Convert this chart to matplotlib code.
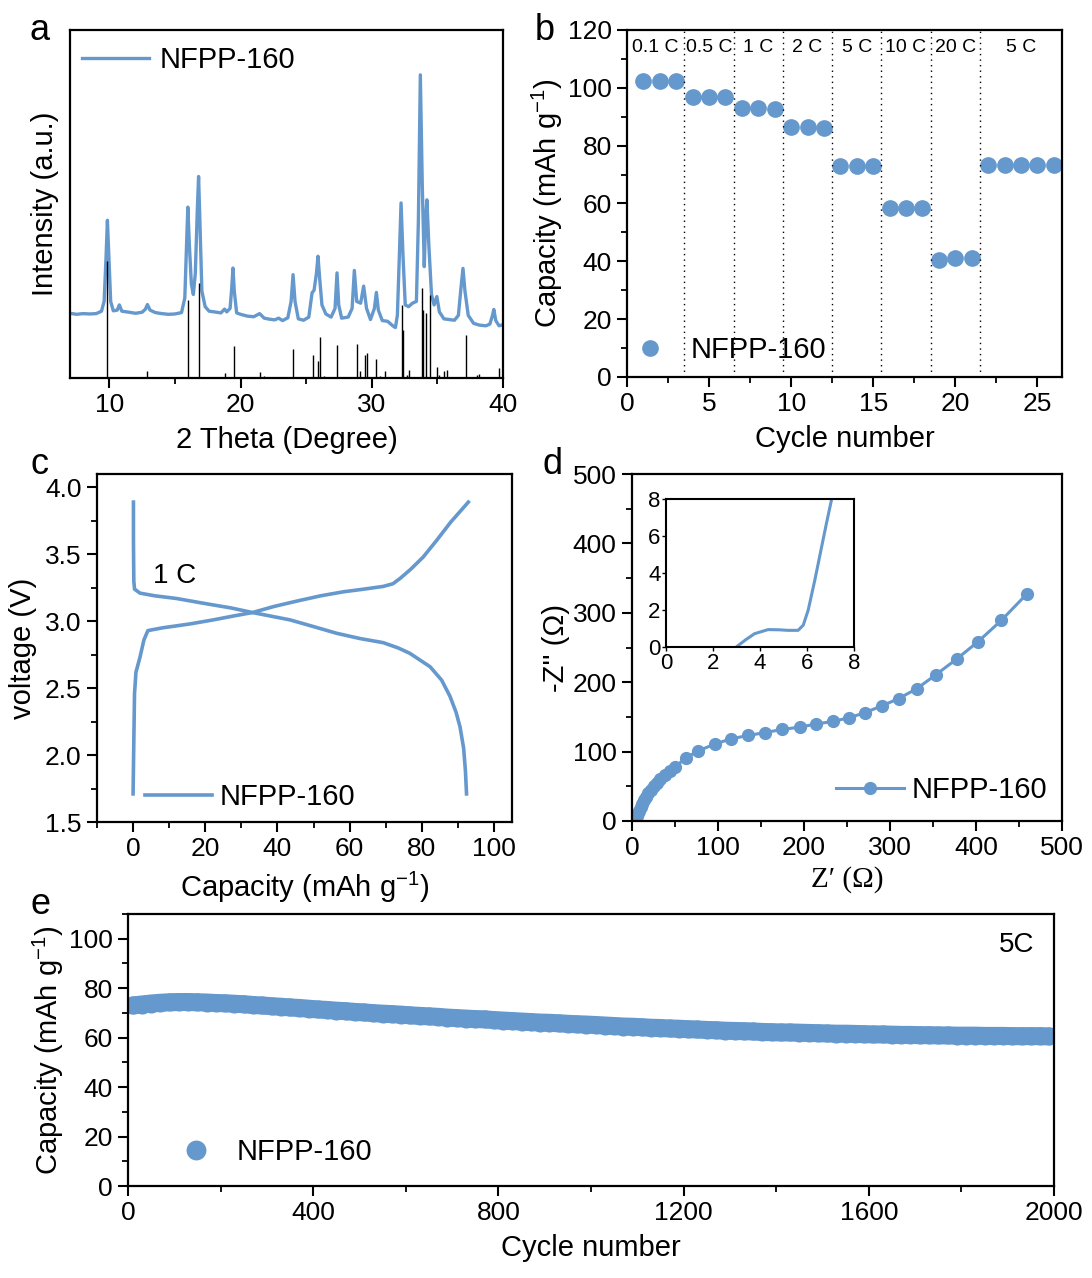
import matplotlib.pyplot as plt
import numpy as np
from matplotlib.ticker import MultipleLocator

plt.rcParams['font.family'] = ['Liberation Sans', 'DejaVu Sans']
plt.rcParams['mathtext.default'] = 'regular'

BLUE = '#6598cc'

# ---- (a) XRD ----
xrd_2theta = [7.0, 7.5, 8.0, 8.5, 9.0, 9.4, 9.6, 9.75, 9.85, 9.95, 10.1, 10.3, 10.6, 10.76, 10.95,
              11.5, 12.0, 12.5, 12.75, 12.9, 13.1, 13.5, 14.0, 14.5, 15.0, 15.5, 15.75, 15.88, 15.98,
              16.1, 16.25, 16.4, 16.55, 16.7, 16.8, 16.9, 17.05, 17.3, 17.6, 18.0, 18.5, 18.78, 18.95,
              19.2, 19.33, 19.42, 19.52, 19.7, 20.0, 20.5, 21.0, 21.45, 21.8, 22.2, 22.6, 22.9, 23.2,
              23.6, 23.85, 24.0, 24.15, 24.4, 24.8, 25.2, 25.45, 25.6, 25.78, 25.9, 26.02, 26.2, 26.5,
              26.9, 27.2, 27.35, 27.48, 27.7, 28.2, 28.5, 28.67, 28.85, 29.15, 29.38, 29.6, 29.9, 30.2,
              30.35, 30.5, 30.8, 31.2, 31.6, 31.8, 31.95, 32.1, 32.23, 32.38, 32.55, 32.8, 33.1, 33.4,
              33.55, 33.7, 33.85, 34.0, 34.1, 34.2, 34.35, 34.55, 34.75, 34.96, 35.15, 35.5, 35.9, 36.3,
              36.6, 36.8, 36.95, 37.1, 37.35, 37.76, 38.2, 38.7, 39.0, 39.2, 39.3, 39.45, 39.7, 40.0]
xrd_int = [18.6, 18.3, 18.5, 18.4, 18.5, 19.2, 22, 35, 45.3, 36, 22, 19.3, 19.5, 21.0, 19.2,
           18.9, 18.6, 18.9, 19.8, 21.1, 19.5, 18.8, 18.5, 18.3, 18.4, 18.8, 23, 38, 49.1,
           38, 27, 24, 30, 48, 57.9, 45, 25, 20.5, 19.2, 19.0, 18.7, 19.8, 19.0,
           20, 26, 31.6, 25, 18.7, 18.3, 17.8, 17.6, 18.5, 17.2, 16.9, 16.7, 17.2, 16.5,
           17.3, 22, 29.7, 22, 17, 16.6, 17.5, 24.5, 25.2, 30, 35, 29, 21, 18.4,
           17.5, 20, 30.2, 21, 17.2, 17.5, 20, 30.9, 22, 21.5, 26.4, 20, 16.8, 20,
           24.6, 19.5, 16.5, 16.3, 15.0, 14.5, 18, 35, 50.3, 35, 21, 20.5, 21.5, 22,
           45, 87.1, 55, 32, 45, 51.2, 38, 24, 21, 23.4, 19, 17, 16.8, 16.6,
           18, 26, 31.5, 25, 18, 15.7, 15.2, 15, 15.5, 18, 19.7, 16.5, 15, 15.3]
ref_2theta = [9.85, 12.9, 16.0, 16.8, 18.8, 19.5, 21.45, 21.75, 24.0, 25.5, 25.9, 26.05, 26.35,
              27.35, 28.9, 29.1, 29.45, 29.6, 30.35, 30.6, 31.0, 32.3, 32.4, 32.7, 32.85, 33.8,
              33.9, 34.1, 34.4, 35.0, 35.15, 35.5, 35.7, 37.15, 38.05, 38.2, 39.7]
ref_int = [33.5, 1.9, 22.5, 27.3, 1.4, 9.3, 1.7, 0.5, 8.2, 6.7, 4.8, 11.8, 0.7,
           9.5, 9.8, 1.9, 6.7, 7.2, 5.6, 0.7, 1.9, 21, 13.8, 1.0, 2.4, 25.8,
           19.6, 18.6, 23.9, 3.3, 1.0, 1.9, 2.4, 12.4, 0.8, 1.1, 2.9]

# ---- (b) rate capability ----
rate_cycle = list(range(1, 27))
rate_cap = [102.3, 102.3, 102.2, 96.9, 96.9, 96.8, 92.9, 92.9, 92.8, 86.3, 86.3, 86.2,
            73.0, 73.0, 73.0, 58.4, 58.5, 58.5, 40.5, 41.0, 41.2, 73.3, 73.3, 73.2, 73.2, 73.2]
rate_bounds = [0, 3.5, 6.5, 9.5, 12.5, 15.5, 18.5, 21.5, 26.5]
rate_labels = ['0.1 C', '0.5 C', '1 C', '2 C', '5 C', '10 C', '20 C', '5 C']

# ---- (c) charge / discharge at 1 C ----
chg_cap = [0.0, 0.2, 0.4, 0.8, 1.9, 3.0, 4.1, 8.0, 15.8, 22.2, 28.0, 33.1, 39.0, 45.3, 52.0,
           58.3, 64.0, 69.3, 72.0, 74.0, 77.0, 80.4, 84.0, 88.0, 92.9]
chg_v = [1.71, 2.10, 2.46, 2.62, 2.73, 2.86, 2.93, 2.95, 2.98, 3.01, 3.04, 3.065, 3.11, 3.15, 3.19,
         3.22, 3.24, 3.26, 3.28, 3.32, 3.39, 3.48, 3.60, 3.74, 3.89]
dis_cap = [0.1, 0.1, 0.2, 0.4, 1.9, 6.0, 12.0, 20.4, 27.0, 33.1, 43.5, 50.0, 56.4, 63.0, 69.3,
           73.5, 76.7, 82.3, 85.5, 87.8, 89.5, 90.6, 91.6, 92.1, 92.4]
dis_v = [3.89, 3.60, 3.30, 3.24, 3.21, 3.19, 3.17, 3.13, 3.10, 3.065, 3.01, 2.96, 2.91, 2.87, 2.84,
         2.80, 2.76, 2.66, 2.56, 2.44, 2.32, 2.21, 2.05, 1.88, 1.71]

# ---- (d) Nyquist ----
z_re = [3.0, 4.0, 5.0, 6.0, 7.0, 8.5, 10.0, 12.0, 14.0, 16.0, 19.0, 22.0, 25.0, 29.0, 33.0,
        38.0, 44.0, 50.0, 62.3, 76.8, 96.1,
        114.9, 135.3, 154.6, 174.9, 194.9, 214.1, 233.3, 252.6, 270.6, 290.2, 310.2, 331.4,
        353.6, 377.5, 402.5, 429.4, 459.0]
z_im = [0.1, 0.8, 3.0, 7.0, 11.0, 15.0, 20.0, 25.0, 30.0, 35.0, 40.0, 45.0, 50.0, 55.0, 60.0,
        66.0, 72.0, 78.0, 90.5, 101.0, 110.7,
        118.4, 123.2, 127.5, 131.9, 135.3, 139.7, 143.5, 148.8, 156.0, 165.8, 176.4, 190.9,
        211.0, 233.4, 258.5, 289.0, 327.0]
zin_re = [2.99, 3.4, 3.77, 4.34, 4.8, 5.2, 5.62, 5.84, 6.05, 6.33, 6.62, 6.83, 7.05]
zin_im = [0.0, 0.4, 0.72, 0.94, 0.93, 0.9, 0.9, 1.18, 1.99, 3.6, 5.4, 6.7, 8.0]

# ---- (e) long cycling at 5 C ----
cyc_n = list(range(10, 2000, 20))
cyc_cap = [73.0, 73.4, 73.8, 74.1, 74.3, 74.4, 74.4, 74.3, 74.2, 74.0,
           73.9, 73.7, 73.5, 73.2, 73.0, 72.7, 72.5, 72.2, 72.0, 71.7,
           71.4, 71.2, 70.9, 70.7, 70.4, 70.2, 69.9, 69.7, 69.5, 69.3,
           69.0, 68.8, 68.6, 68.4, 68.1, 67.9, 67.7, 67.5, 67.4, 67.1,
           66.9, 66.7, 66.5, 66.3, 66.1, 66.0, 65.8, 65.6, 65.4, 65.3,
           65.1, 64.9, 64.7, 64.5, 64.4, 64.2, 64.0, 63.9, 63.7, 63.6,
           63.4, 63.3, 63.1, 63.0, 62.8, 62.7, 62.6, 62.5, 62.3, 62.2,
           62.1, 62.1, 62.0, 61.9, 61.8, 61.7, 61.6, 61.6, 61.5, 61.4,
           61.3, 61.3, 61.2, 61.1, 61.1, 61.0, 61.0, 60.9, 60.9, 60.8,
           60.8, 60.8, 60.7, 60.7, 60.7, 60.6, 60.6, 60.6, 60.6, 60.5]

W, H = 1092, 1278
fig = plt.figure(figsize=(W / 100, H / 100), dpi=100)


def box(l, t, r, b):
    return [l / W, 1 - b / H, (r - l) / W, (b - t) / H]


def style(ax, size=19):
    for s in ax.spines.values():
        s.set_linewidth(1.6)
    ax.tick_params(which='major', direction='out', length=7, width=1.5, labelsize=size, pad=4)
    ax.tick_params(which='minor', direction='out', length=4, width=1.3)


LFS = 21

# (a)
ax = fig.add_axes(box(70, 30, 503, 378))
ax.plot(xrd_2theta, xrd_int, color=BLUE, lw=2.4, label='NFPP-160')
ax.vlines(ref_2theta, 0, ref_int, color='black', lw=1.0)
ax.set_xlim(7, 40)
ax.set_ylim(0, 100)
ax.set_yticks([])
ax.xaxis.set_major_locator(MultipleLocator(10))
ax.xaxis.set_minor_locator(MultipleLocator(5))
style(ax)
ax.set_xlabel('2 Theta (Degree)', fontsize=LFS, labelpad=6)
ax.set_ylabel('Intensity (a.u.)', fontsize=LFS, labelpad=8)
ax.legend(loc='center left', bbox_to_anchor=(0.028, 0.914), frameon=False, fontsize=LFS,
          handlelength=2.3, handletextpad=0.35, borderpad=0, borderaxespad=0)

# (b)
ax = fig.add_axes(box(627, 30, 1062, 377))
ax.plot(rate_cycle, rate_cap, 'o', color=BLUE, ms=11, label='NFPP-160')
for xb in rate_bounds[1:-1]:
    ax.axvline(xb, color='black', lw=1.0, ls=(0, (1, 3)))
for i, lab in enumerate(rate_labels):
    ax.text((rate_bounds[i] + rate_bounds[i + 1]) / 2, 113.8, lab, ha='center', va='center', fontsize=14)
ax.set_xlim(0, 26.5)
ax.set_ylim(0, 120)
ax.xaxis.set_major_locator(MultipleLocator(5))
ax.xaxis.set_minor_locator(MultipleLocator(2.5))
ax.yaxis.set_major_locator(MultipleLocator(20))
ax.yaxis.set_minor_locator(MultipleLocator(10))
style(ax)
ax.set_xlabel('Cycle number', fontsize=LFS, labelpad=6)
ax.set_ylabel('Capacity (mAh g$^{-1}$)', fontsize=LFS, labelpad=2)
ax.legend(loc='center left', bbox_to_anchor=(0.019, 0.078), frameon=False, fontsize=LFS,
          handlelength=1.0, handletextpad=0.9, borderpad=0, borderaxespad=0)

# (c)
ax = fig.add_axes(box(97, 474, 512, 822))
ax.plot(dis_cap, dis_v, color=BLUE, lw=2.6)
ax.plot(chg_cap, chg_v, color=BLUE, lw=2.6, label='NFPP-160')
ax.text(5.5, 3.34, '1 C', fontsize=20, ha='left', va='center')
ax.set_xlim(-10, 105)
ax.set_ylim(1.5, 4.1)
ax.xaxis.set_major_locator(MultipleLocator(20))
ax.xaxis.set_minor_locator(MultipleLocator(10))
ax.yaxis.set_major_locator(MultipleLocator(0.5))
ax.yaxis.set_minor_locator(MultipleLocator(0.25))
ax.yaxis.set_major_formatter('{x:.1f}')
style(ax)
ax.set_xlabel('Capacity (mAh g$^{-1}$)', fontsize=LFS, labelpad=6)
ax.set_ylabel('voltage (V)', fontsize=LFS, labelpad=6)
ax.legend(loc='center left', bbox_to_anchor=(0.116, 0.072), frameon=False, fontsize=LFS,
          handlelength=2.3, handletextpad=0.25, borderpad=0, borderaxespad=0)

# (d)
ax = fig.add_axes(box(632, 474, 1062, 821))
ax.plot(z_re, z_im, '-o', color=BLUE, lw=2.2, ms=8.5, label='NFPP-160')
ax.set_xlim(0, 500)
ax.set_ylim(0, 500)
ax.xaxis.set_major_locator(MultipleLocator(100))
ax.xaxis.set_minor_locator(MultipleLocator(50))
ax.yaxis.set_major_locator(MultipleLocator(100))
ax.yaxis.set_minor_locator(MultipleLocator(50))
style(ax)
ax.set_xlabel('Z\u2032 (\u03a9)', fontsize=LFS, family=['Liberation Serif'], labelpad=4)
ax.set_ylabel("-Z'' (\u03a9)", fontsize=LFS, labelpad=2)
ax.legend(loc='center left', bbox_to_anchor=(0.474, 0.089), frameon=False, fontsize=LFS,
          handlelength=2.35, handletextpad=0.25, borderpad=0, borderaxespad=0)

axi = fig.add_axes(box(666, 499, 854, 647))
axi.plot(zin_re, zin_im, color=BLUE, lw=2.2)
axi.set_xlim(0, 8)
axi.set_ylim(0, 8)
axi.xaxis.set_major_locator(MultipleLocator(2))
axi.yaxis.set_major_locator(MultipleLocator(2))
for s in axi.spines.values():
    s.set_linewidth(1.5)
axi.tick_params(direction='out', length=3, width=1.0, labelsize=16, pad=1)

# (e)
ax = fig.add_axes(box(128, 914, 1054, 1186))
ax.plot(cyc_n, cyc_cap, '-', color=BLUE, lw=13, solid_capstyle='round')
ax.plot(cyc_n, cyc_cap, 'o', color=BLUE, ms=13, mec='none', label='NFPP-160')
ax.text(1920, 97.6, '5C', fontsize=20, ha='center', va='center')
ax.set_xlim(0, 2000)
ax.set_ylim(0, 110)
ax.xaxis.set_major_locator(MultipleLocator(400))
ax.xaxis.set_minor_locator(MultipleLocator(200))
ax.yaxis.set_major_locator(MultipleLocator(20))
ax.yaxis.set_minor_locator(MultipleLocator(10))
style(ax)
ax.set_xlabel('Cycle number', fontsize=LFS, labelpad=6)
ax.set_ylabel('Capacity (mAh g$^{-1}$)', fontsize=LFS, labelpad=2)
ax.legend(loc='center left', bbox_to_anchor=(0.0577, 0.125), frameon=False, fontsize=LFS,
          handlelength=1.0, handletextpad=0.9, borderpad=0, borderaxespad=0, markerscale=1.1)

# panel letters
for lab, (px, py) in zip('abcde', [(40, 30), (545, 30), (40, 465), (553, 465), (40, 905)]):
    fig.text(px / W, 1 - py / H, lab, fontsize=26, ha='center', va='center')

fig.savefig('out.png', dpi=100)
